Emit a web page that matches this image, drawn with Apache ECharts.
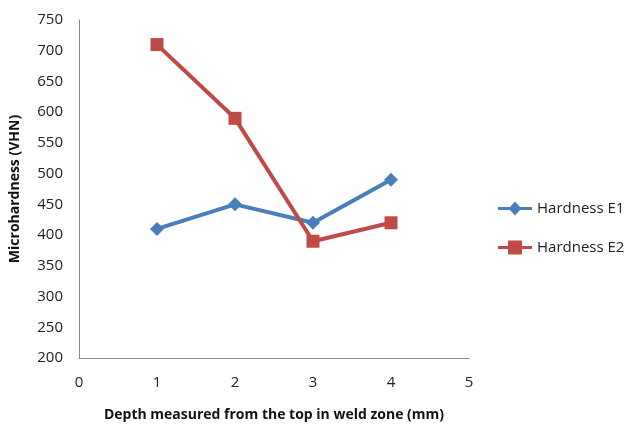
<!DOCTYPE html>
<html><head><meta charset="utf-8">
<script src="https://cdn.jsdelivr.net/npm/echarts@6/dist/echarts.min.js"></script>
<style>html,body{margin:0;padding:0;background:#fff}#c{width:633px;height:432px}</style>
</head><body><div id="c"></div>
<script>
const depth = [1, 2, 3, 4];
const hardnessE1 = [410, 450, 420, 490];
const hardnessE2 = [710, 590, 390, 420];
const seriesNames = ['Hardness E1', 'Hardness E2'];
const xTitle = 'Depth measured from the top in weld zone (mm)';
const yTitle = 'Microhardness (VHN)';

const chart = echarts.init(document.getElementById('c'));
const font = 'Open Sans, Liberation Sans, sans-serif';
chart.setOption({
  animation: false,
  grid: {left: 77, right: 164, top: 20, bottom: 74},
  legend: {
    orient: 'vertical', left: 493, top: 196, itemGap: 24,
    itemWidth: 34, itemHeight: 14,
    textStyle: {fontFamily: font, fontSize: 15, color: '#222'},
    data: [
      {name: seriesNames[0], icon: 'path://M0,5.5 L12,5.5 L17,0 L22,5.5 L34,5.5 L34,8.5 L22,8.5 L17,14 L12,8.5 L0,8.5 Z'},
      {name: seriesNames[1], icon: 'path://M0,5.5 L10,5.5 L10,0 L24,0 L24,5.5 L34,5.5 L34,8.5 L24,8.5 L24,14 L10,14 L10,8.5 L0,8.5 Z'}
    ]
  },
  xAxis: {
    type: 'value', min: 0, max: 5, interval: 1,
    axisLine: {show: true, lineStyle: {color: '#888', width: 1}},
    axisTick: {show: false}, splitLine: {show: false},
    axisLabel: {fontFamily: font, fontSize: 15, color: '#222', margin: 17},
    name: xTitle, nameLocation: 'middle', nameGap: 50,
    nameTextStyle: {fontFamily: font, fontSize: 14, fontWeight: 'bold', color: '#111'}
  },
  yAxis: {
    type: 'value', min: 200, max: 750, interval: 50,
    axisLine: {show: true, lineStyle: {color: '#888', width: 1}},
    axisTick: {show: false}, splitLine: {show: false},
    axisLabel: {fontFamily: font, fontSize: 15, color: '#222', margin: 16},
    name: yTitle, nameLocation: 'middle', nameGap: 57, nameRotate: 90,
    nameTextStyle: {fontFamily: font, fontSize: 14, fontWeight: 'bold', color: '#111'}
  },
  series: [
    {name: seriesNames[0], type: 'line', data: depth.map((d, i) => [d, hardnessE1[i]]),
     symbol: 'diamond', symbolSize: 14, color: '#4A7EBB',
     lineStyle: {width: 4, color: '#4A7EBB'}, itemStyle: {color: '#4A7EBB'}},
    {name: seriesNames[1], type: 'line', data: depth.map((d, i) => [d, hardnessE2[i]]),
     symbol: 'rect', symbolSize: 13, color: '#BE4B48',
     lineStyle: {width: 4, color: '#BE4B48'}, itemStyle: {color: '#BE4B48'}}
  ]
});
</script></body></html>
